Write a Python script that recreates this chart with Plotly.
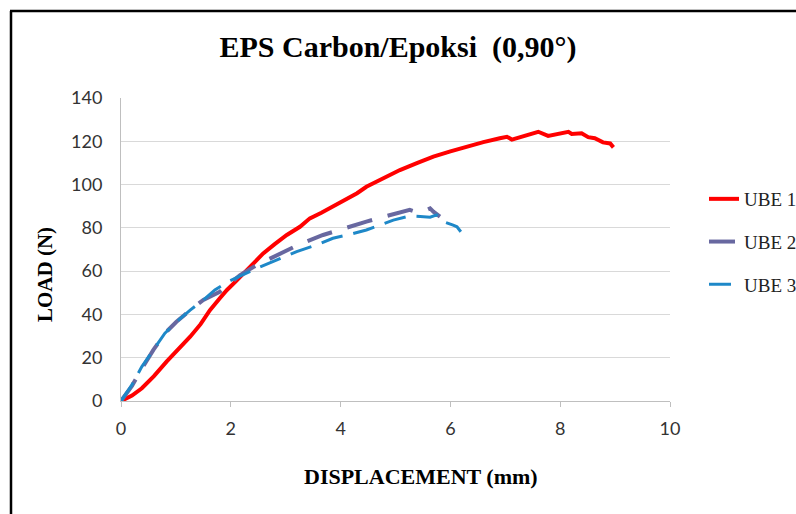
import plotly.graph_objects as go

ube1_x = [0, 0.2, 0.38, 0.6, 0.83, 1.05, 1.26, 1.45, 1.62, 1.8, 1.93, 2.1, 2.23, 2.4, 2.59, 2.8,
          3.02, 3.26, 3.44, 3.65, 3.86, 4.1, 4.3, 4.47, 4.8, 5.08, 5.4, 5.69, 6.0, 6.3, 6.6,
          6.9, 7.03, 7.12, 7.3, 7.6, 7.78, 8.0, 8.15, 8.21, 8.39, 8.51, 8.63, 8.78, 8.91, 8.97]
ube1_y = [0, 2.5, 5.9, 11.5, 18.2, 24, 29.7, 35.5, 42, 47.5, 51.3, 55.5, 59, 63.5, 68.2, 72.5,
          76.7, 80.5, 84.4, 87, 89.8, 93.5, 96, 99, 103, 106.7, 110, 112.9, 115.3, 117.5, 119.6,
          121.4, 122.1, 120.8, 122, 124.4, 122.5, 123.4, 124.4, 123.4, 123.7, 121.9, 121.4, 119.5, 119, 117.2]

ube2_x = [0, 0.2, 0.38, 0.59, 0.8, 1.01, 1.26, 1.5, 1.8, 2.17, 2.47, 2.9, 3.26, 3.68, 3.99,
          4.47, 4.84, 5.1, 5.26, 5.36, 5.5, 5.63, 5.69, 5.81]
ube2_y = [0, 7, 15, 23.6, 31.3, 36.6, 42, 46.7, 50.5, 58.2, 62.8, 68.2, 72.5, 76.7, 79.3,
          82.9, 85.5, 87.3, 88.3, 87.5, 87.5, 89, 87.5, 85.2]

ube3_x = [0, 0.2, 0.38, 0.59, 0.8, 1.01, 1.26, 1.5, 1.71, 1.95, 2.2, 2.47, 2.83, 3.2, 3.56,
          3.86, 4.2, 4.47, 4.96, 5.26, 5.45, 5.63, 5.75, 5.87, 6.05, 6.12, 6.19]
ube3_y = [0, 7.5, 15.9, 23.6, 31.3, 36.6, 42, 46.7, 51.3, 55.1, 58.2, 61.3, 65.1, 69, 72.1,
          75.2, 77.2, 79, 83.6, 85.5, 85.2, 84.9, 86, 82.9, 81.3, 80.5, 78.2]

names = ["UBE 1", "UBE 2", "UBE 3"]
title_text = "EPS Carbon/Epoksi  (0,90°)"
x_title = "DISPLACEMENT (mm)"
y_title = "LOAD (N)"

fig = go.Figure()
fig.add_trace(go.Scatter(x=ube1_x, y=ube1_y, mode="lines", name=names[0], legendgroup="a",
                         line=dict(color="#FF0000", width=4)))
fig.add_trace(go.Scatter(x=ube2_x, y=ube2_y, mode="lines", name=names[1], legendgroup="b",
                         line=dict(color="#6868A0", width=4, dash="26px,16px")))
fig.add_trace(go.Scatter(x=ube3_x, y=ube3_y, mode="lines", name=names[2], legendgroup="c",
                         line=dict(color="#1E88C8", width=3, dash="22px,11px")))

W, H = 796, 514
L, R, T, B = 121, 126, 98, 113
pw, ph = W - L - R, H - T - B

def px(xp):
    return (xp - L) / pw

def py(yp):
    return (H - B - yp) / ph

fig.update_layout(
    width=W, height=H,
    margin=dict(l=L, r=R, t=T, b=B, autoexpand=False),
    paper_bgcolor="white", plot_bgcolor="white",
    showlegend=True,
    legend=dict(xref="container", yref="container", x=704 / W, y=1 - 180 / H,
                xanchor="left", yanchor="top",
                font=dict(family="Liberation Serif", size=19, color="#222"),
                tracegroupgap=15, bgcolor="rgba(0,0,0,0)", borderwidth=0),
    title=dict(text="<b>" + title_text + "</b>", x=0.5, xanchor="center",
               y=1 - 46 / H, yanchor="middle",
               font=dict(family="Liberation Serif", size=30, color="black")),
    xaxis=dict(range=[0, 10], dtick=2, showgrid=False, zeroline=False,
               showline=True, linecolor="#BFBFBF", linewidth=1,
               ticks="outside", ticklen=5, tickcolor="#BFBFBF", ticklabelstandoff=6,
               tickfont=dict(family="Lato", size=18, color="#333")),
    yaxis=dict(range=[0, 140], dtick=20, showgrid=True, gridcolor="#D9D9D9", zeroline=False,
               showline=True, linecolor="#BFBFBF", linewidth=1, ticks="", ticklabelstandoff=14,
               tickfont=dict(family="Lato", size=18, color="#333")),
    annotations=[
        dict(text="<b>" + x_title + "</b>", xref="paper", yref="paper",
             x=px(421), y=py(476), xanchor="center", yanchor="middle", showarrow=False,
             font=dict(family="Liberation Serif", size=22, color="black")),
        dict(text="<b>" + y_title + "</b>", xref="paper", yref="paper", textangle=-90,
             x=px(45), y=py(275), xanchor="center", yanchor="middle", showarrow=False,
             font=dict(family="Liberation Serif", size=21, color="black")),
    ],
    shapes=[
        dict(type="line", xref="paper", yref="paper", x0=px(11), x1=px(11), y0=py(11), y1=py(H + 5),
             line=dict(color="black", width=2.5)),
        dict(type="line", xref="paper", yref="paper", x0=px(10), x1=px(W + 5), y0=py(11), y1=py(11),
             line=dict(color="black", width=2.5)),
    ],
)

fig.write_html("out.html")
